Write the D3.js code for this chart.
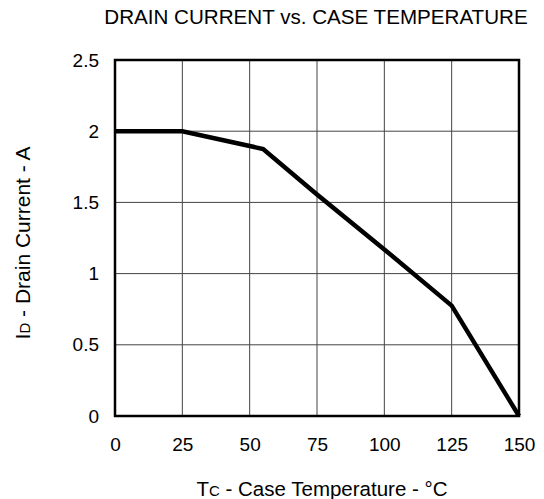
<!DOCTYPE html>
<html lang="en">
<head>
<meta charset="utf-8">
<title>Drain current vs. case temperature</title>
<script src="https://cdn.jsdelivr.net/npm/d3@7"></script>
<style>
  body { margin: 0; background: #fff; }
  svg { display: block; font-family: "Liberation Sans", Arial, sans-serif; }
</style>
</head>
<body>
<script>
// values
var tempC = [0, 25, 55, 75, 100, 125, 150];
var drainA = [2.0, 2.0, 1.875, 1.555, 1.17, 0.775, 0];
var xTicks = [0, 25, 50, 75, 100, 125, 150];
var yTicks = [0, 0.5, 1, 1.5, 2, 2.5];
var yTickLabels = ["0", "0.5", "1", "1.5", "2", "2.5"];

var width = 544, height = 499;
var margin = {top: 60, left: 115, bottom: 83, right: 25};

var svg = d3.select("body").append("svg")
  .attr("width", width)
  .attr("height", height);

var x = d3.scaleLinear().domain([0, 150]).range([margin.left, width - margin.right]);
var y = d3.scaleLinear().domain([0, 2.5]).range([height - margin.bottom, margin.top]);

// grid
svg.append("g").selectAll("line")
  .data(xTicks.slice(1, -1))
  .enter().append("line")
  .attr("x1", function(d) { return x(d); })
  .attr("x2", function(d) { return x(d); })
  .attr("y1", y(0)).attr("y2", y(2.5))
  .attr("stroke", "#444").attr("stroke-width", 1);

svg.append("g").selectAll("line")
  .data(yTicks.slice(1, -1))
  .enter().append("line")
  .attr("y1", function(d) { return y(d); })
  .attr("y2", function(d) { return y(d); })
  .attr("x1", x(0)).attr("x2", x(150))
  .attr("stroke", "#444").attr("stroke-width", 1);

// axes, labels only
var xAxis = d3.axisBottom(x).tickValues(xTicks).tickSize(0).tickPadding(22);
var yAxis = d3.axisLeft(y).tickValues(yTicks).tickSize(0).tickPadding(16)
  .tickFormat(function(d, i) { return yTickLabels[i]; });

svg.append("g")
  .attr("transform", "translate(0," + y(0) + ")")
  .call(xAxis)
  .call(function(g) { g.select(".domain").remove(); })
  .selectAll("text").attr("font-size", 19).attr("fill", "#000")
  .attr("font-family", "Liberation Sans, Arial, sans-serif");

svg.append("g")
  .attr("transform", "translate(" + x(0) + ",0)")
  .call(yAxis)
  .call(function(g) { g.select(".domain").remove(); })
  .selectAll("text").attr("font-size", 19).attr("fill", "#000")
  .attr("font-family", "Liberation Sans, Arial, sans-serif");

// frame
svg.append("rect")
  .attr("x", x(0)).attr("y", y(2.5))
  .attr("width", x(150) - x(0)).attr("height", y(0) - y(2.5))
  .attr("fill", "none").attr("stroke", "#000").attr("stroke-width", 2.5);

// curve
var line = d3.line()
  .x(function(d, i) { return x(tempC[i]); })
  .y(function(d) { return y(d); });

svg.append("path")
  .datum(drainA)
  .attr("d", line)
  .attr("fill", "none")
  .attr("stroke", "#000")
  .attr("stroke-width", 4.5)
  .attr("stroke-linejoin", "miter");

// titles
svg.append("text")
  .attr("x", 316).attr("y", 24)
  .attr("text-anchor", "middle")
  .attr("font-size", 20.6)
  .text("DRAIN CURRENT vs. CASE TEMPERATURE");

var xt = svg.append("text")
  .attr("x", 322).attr("y", 496)
  .attr("text-anchor", "middle")
  .attr("font-size", 20.5);
xt.append("tspan").text("T");
xt.append("tspan").attr("font-size", 15).text("C");
xt.append("tspan").text(" - Case Temperature - \u00b0C");

var yt = svg.append("text")
  .attr("transform", "translate(30,243) rotate(-90)")
  .attr("text-anchor", "middle")
  .attr("font-size", 21);
yt.append("tspan").text("I");
yt.append("tspan").attr("font-size", 15).text("D");
yt.append("tspan").text(" - Drain Current - A");
</script>
</body>
</html>
